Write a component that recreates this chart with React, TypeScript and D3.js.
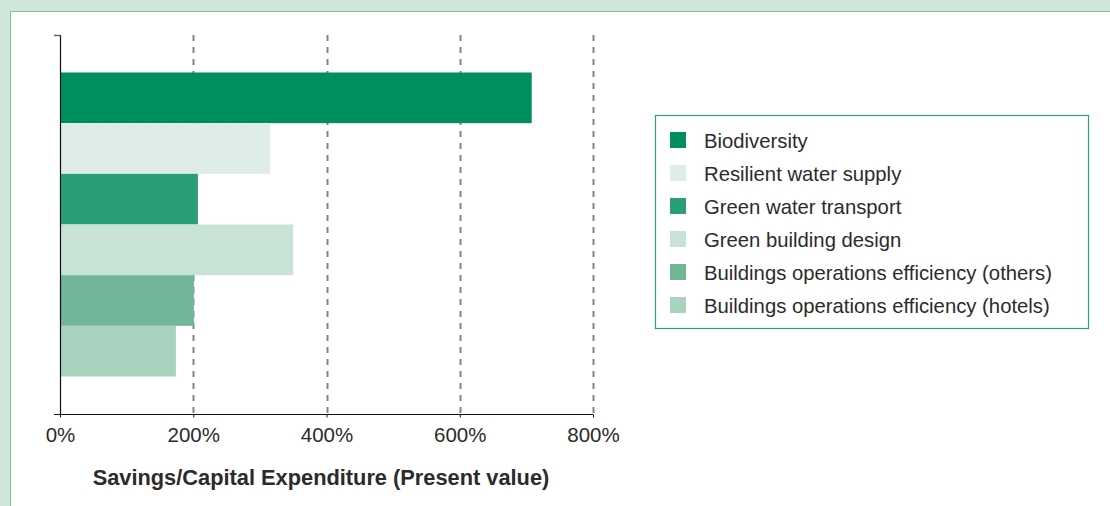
import * as d3 from 'd3';
import React from 'react';
import { useEffect, useRef } from 'react';

const categories = [
    'Biodiversity',
    'Resilient water supply',
    'Green water transport',
    'Green building design',
    'Buildings operations efficiency (others)',
    'Buildings operations efficiency (hotels)'
];

const values = [708, 315, 207, 350, 201, 174];

const colors = ['#008e5f', '#deede6', '#2a9e78', '#c8e2d5', '#72b69a', '#a8d3bf'];

const tickValues = [0, 200, 400, 600, 800];

const axisTitle = 'Savings/Capital Expenditure (Present value)';

const WIDTH = 1110;
const HEIGHT = 506;
const FONT = '"Liberation Sans", Arial, Helvetica, sans-serif';

const App = () => {
    const svgRef = useRef(null);

    useEffect(() => {
        const svg = d3.select(svgRef.current);
        svg.selectAll('*').remove();

        // background frame
        svg.append('rect')
            .attr('width', WIDTH)
            .attr('height', HEIGHT)
            .attr('fill', '#d0e6da');
        svg.append('rect')
            .attr('x', 10.5)
            .attr('y', 11.5)
            .attr('width', WIDTH + 20)
            .attr('height', HEIGHT + 20)
            .attr('fill', '#ffffff')
            .attr('stroke', '#7cc0a0')
            .attr('stroke-width', 1);

        const x = d3.scaleLinear()
            .domain([0, 800])
            .range([60, 593]);

        const y = d3.scaleBand()
            .domain(categories)
            .range([35, 414])
            .paddingInner(0)
            .paddingOuter(0.74);

        // dashed grid lines
        svg.append('g')
            .selectAll('line')
            .data(tickValues.filter(d => d > 0))
            .join('line')
            .attr('x1', d => Math.round(x(d)) + 0.5)
            .attr('x2', d => Math.round(x(d)) + 0.5)
            .attr('y1', 35)
            .attr('y2', 414)
            .attr('stroke', '#858585')
            .attr('stroke-width', 2)
            .attr('stroke-dasharray', '6,6');

        // bars
        svg.append('g')
            .selectAll('rect')
            .data(categories)
            .join('rect')
            .attr('x', x(0))
            .attr('y', d => y(d))
            .attr('width', (d, i) => x(values[i]) - x(0))
            .attr('height', y.bandwidth())
            .attr('fill', (d, i) => colors[i]);

        // y axis line with top tick
        svg.append('line')
            .attr('x1', 60.5).attr('x2', 60.5)
            .attr('y1', 35).attr('y2', 414)
            .attr('stroke', '#111').attr('stroke-width', 1.2);
        svg.append('line')
            .attr('x1', 54).attr('x2', 60.5)
            .attr('y1', 35.5).attr('y2', 35.5)
            .attr('stroke', '#666').attr('stroke-width', 1.5);

        // x axis
        const xAxis = d3.axisBottom(x)
            .tickValues(tickValues)
            .tickSize(3)
            .tickFormat(d => d + '%');

        const axisG = svg.append('g')
            .attr('transform', 'translate(0, 414.5)')
            .call(xAxis);
        axisG.select('.domain')
            .attr('d', 'M54,0H593')
            .attr('stroke', '#111');
        axisG.selectAll('.tick line').attr('stroke', '#111');
        axisG.selectAll('.tick text')
            .attr('y', 27.5)
            .attr('dy', 0)
            .attr('font-family', FONT)
            .attr('font-size', 20.5)
            .attr('fill', '#2b2b2b');

        svg.append('text')
            .attr('x', 321)
            .attr('y', 485)
            .attr('text-anchor', 'middle')
            .attr('font-family', FONT)
            .attr('font-size', 21.8)
            .attr('font-weight', 'bold')
            .attr('fill', '#2b2b2b')
            .text(axisTitle);

        // legend
        const legend = svg.append('g');
        legend.append('rect')
            .attr('x', 655.5)
            .attr('y', 115.5)
            .attr('width', 433)
            .attr('height', 213)
            .attr('fill', '#ffffff')
            .attr('stroke', '#2a9e78')
            .attr('stroke-width', 1.2);

        const items = legend.selectAll('g.item')
            .data(categories)
            .join('g')
            .attr('class', 'item')
            .attr('transform', (d, i) => 'translate(670, ' + (140 + i * 33) + ')');
        items.append('rect')
            .attr('x', 0)
            .attr('y', -8)
            .attr('width', 16)
            .attr('height', 16)
            .attr('fill', (d, i) => colors[i]);
        items.append('text')
            .attr('x', 34)
            .attr('y', 8)
            .attr('font-family', FONT)
            .attr('font-size', 20.3)
            .attr('fill', '#2b2b2b')
            .text(d => d);
    }, []);

    return (
        <svg
            ref={svgRef}
            width={WIDTH}
            height={HEIGHT}
            style={{ position: 'absolute', left: 0, top: 0, display: 'block' }}
        />
    );
};

export default App;
